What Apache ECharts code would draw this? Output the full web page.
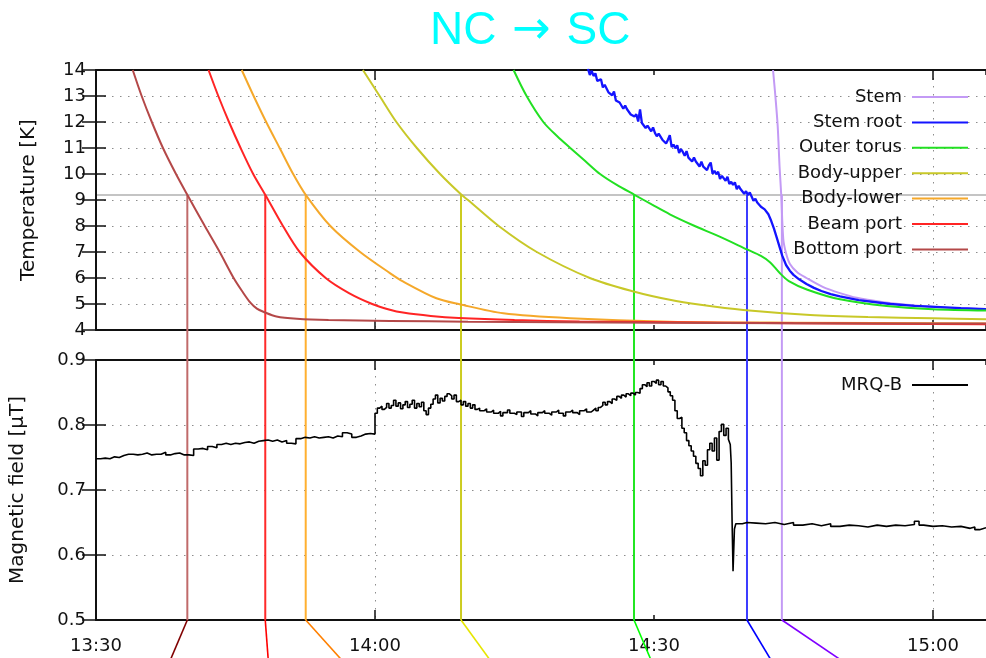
<!DOCTYPE html>
<html>
<head>
<meta charset="utf-8">
<title>NC → SC</title>
<script src="https://cdn.jsdelivr.net/npm/echarts@6/dist/echarts.min.js"></script>
<style>
  html, body { margin: 0; padding: 0; background: #ffffff; }
  #chart { width: 986px; height: 658px; }
</style>
</head>
<body>
<div id="chart"></div>
<script>
// Time axis: minutes after 13:30.
// Cool-down of the cavity parts through the transition (threshold 9.2 K)
// and the field seen by the MRQ-B fluxgate.

const SENSORS = ['Stem', 'Stem root', 'Outer torus', 'Body-upper', 'Body-lower', 'Beam port', 'Bottom port'];

// [minutes, K]
const STEM = [[72.8,14],[73.05,13.0],[73.3,11.85],[73.5,10.3],[73.68,9.2],[73.9,7.5],[74.2,6.95],[74.6,6.55],[75.4,6.22],[76.4,6.0],[78.2,5.65],[80,5.42],[81.8,5.24],[84.5,5.08],[87.2,4.97],[91,4.87],[95.7,4.8]];

const STEM_ROOT = [[52.9,14.05],[53.1,13.81],[53.3,13.97],[53.5,13.77],[53.7,13.87],[53.9,13.58],[54.1,13.58],[54.3,13.64],[54.5,13.33],[54.7,13.43],[54.9,13.39],[55.1,13.14],[55.3,13.18],[55.5,13.03],[55.7,13.17],[55.9,12.83],[56.1,12.90],[56.3,12.75],[56.5,12.81],[56.7,12.51],[56.9,12.63],[57.1,12.49],[57.3,12.56],[57.5,12.29],[57.7,12.35],[57.9,12.21],[58.1,12.30],[58.3,12.02],[58.5,12.48],[58.7,11.96],[58.9,12.03],[59.1,11.77],[59.3,11.86],[59.5,11.87],[59.7,11.64],[59.9,11.79],[60.1,11.58],[60.3,11.45],[60.5,11.55],[60.7,11.57],[60.9,11.32],[61.1,11.36],[61.3,11.17],[61.5,11.32],[61.7,11.49],[61.9,11.04],[62.1,11.13],[62.3,10.99],[62.5,11.10],[62.7,10.81],[62.9,10.96],[63.1,10.85],[63.3,10.70],[63.5,10.88],[63.7,10.63],[63.9,10.67],[64.1,10.48],[64.3,10.63],[64.5,10.48],[64.7,10.51],[64.9,10.29],[65.1,10.47],[65.3,10.28],[65.5,10.30],[65.7,10.15],[65.9,10.33],[66.1,10.44],[66.3,10.01],[66.5,10.12],[66.7,9.99],[66.9,10.09],[67.1,9.81],[67.3,9.93],[67.5,9.94],[67.7,9.74],[67.9,9.89],[68.1,9.62],[68.3,9.70],[68.5,9.58],[68.7,9.68],[68.9,9.42],[69.1,9.55],[69.3,9.42],[69.5,9.49],[69.7,9.24],[69.9,9.34],[70.1,9.19],[70.3,9.29],[70.5,9.35],[70.7,8.97],[70.9,9.05],[71.1,8.90],[71.3,8.96],[71.5,8.74],[71.7,8.80],[71.9,8.64],[72.1,8.66],[72.3,8.45],[72.6,8.2],[72.9,7.9],[73.2,7.55],[73.5,7.2],[73.8,6.85],[74.2,6.5],[74.6,6.28],[75.0,6.12],[75.6,5.95],[76.4,5.77],[77.2,5.62],[78,5.5],[79,5.38],[80,5.29],[82,5.15],[85.4,5.0],[88,4.93],[90.8,4.88],[93,4.84],[95.7,4.8]];

const OUTER_TORUS = [[44.9,14],[46.3,13],[48.1,12],[49.6,11.45],[51.0,11],[52.6,10.5],[54.2,10],[56.0,9.58],[57.9,9.2],[59.8,8.82],[61.7,8.45],[64.2,8.03],[67,7.6],[70,7.1],[71.5,6.85],[72.5,6.6],[73.5,6.2],[74.5,5.88],[76.5,5.55],[80,5.18],[85,4.92],[90,4.8],[95.7,4.75]];

const BODY_UPPER = [[28.7,14],[30.5,13],[32.3,12],[34.5,11],[37.0,10],[39.3,9.2],[40.0,9],[43.3,8],[47.4,7],[53.1,6],[57.8,5.48],[61.7,5.16],[65,4.97],[69.6,4.77],[76.8,4.58],[83,4.5],[90,4.45],[95.7,4.41]];

const BODY_LOWER = [[15.67,14],[16.95,13],[18.3,12],[19.75,11],[21.2,10],[22.55,9.2],[25.2,8],[28.4,7],[31.6,6.19],[33.0,5.87],[36.6,5.22],[39.1,4.99],[43.8,4.64],[51,4.45],[61.7,4.32],[75,4.28],[95.7,4.25]];

const BEAM_PORT = [[12.1,14],[13.15,13],[14.3,12],[15.55,11],[16.9,10],[18.2,9.2],[20.1,8],[21.9,7],[24.7,6],[27.2,5.42],[29.7,5],[31.6,4.78],[33,4.67],[36,4.54],[39,4.46],[45,4.38],[52,4.33],[61.7,4.3],[75,4.26],[95.7,4.22]];

const BOTTOM_PORT = [[3.95,14],[4.91,13],[6.0,12],[7.2,11],[8.6,10],[9.82,9.2],[11.7,8],[13.3,7],[14.8,6],[15.7,5.5],[16.6,5.05],[17.3,4.82],[18.0,4.7],[19.4,4.52],[21.6,4.43],[25,4.38],[31.6,4.35],[40,4.32],[50,4.3],[60,4.28],[75,4.26],[95.7,4.25]];

const TEMPERATURES = [STEM, STEM_ROOT, OUTER_TORUS, BODY_UPPER, BODY_LOWER, BEAM_PORT, BOTTOM_PORT];

// transition temperature and the moment each part passes it [minutes]
const THRESHOLD = 9.2;
const CROSS_TIMES = [73.75, 70.0, 57.85, 39.25, 22.55, 18.2, 9.82];

// MRQ-B field [minutes, µT]
const MRQ_B = [[0,0.748],[0.5,0.749],[1.0,0.748],[1.5,0.751],[2.0,0.750],[2.5,0.753],[3.0,0.755],[3.5,0.755],[4.0,0.754],[4.5,0.755],[5.0,0.757],[5.5,0.754],[6.0,0.755],[6.5,0.755],[7.0,0.758],[7.5,0.754],[8.0,0.756],[8.5,0.757],[9.0,0.754],[9.5,0.754],[10.0,0.753],[10.5,0.763],[11.0,0.764],[11.5,0.762],[12.0,0.767],[12.5,0.765],[13.0,0.770],[13.5,0.772],[14.0,0.770],[14.5,0.772],[15.0,0.771],[15.5,0.773],[16.0,0.774],[16.5,0.772],[17.0,0.775],[17.5,0.776],[18.0,0.777],[18.5,0.775],[19.0,0.777],[19.5,0.774],[20.0,0.776],[20.5,0.772],[21.0,0.771],[21.5,0.779],[22.0,0.781],[22.5,0.780],[23.0,0.782],[23.5,0.780],[24.0,0.781],[24.5,0.782],[25.0,0.780],[25.5,0.783],[26.0,0.782],[26.5,0.788],[27.0,0.786],[27.5,0.781],[28.0,0.783],[28.5,0.786],[29.0,0.787],[29.5,0.786],
  [30.0,0.818],[30.25,0.826],[30.5,0.829],[30.75,0.824],[31.0,0.827],[31.25,0.833],[31.5,0.826],[31.75,0.830],[32.0,0.838],[32.25,0.829],[32.5,0.834],[32.75,0.825],[33.0,0.831],[33.25,0.836],[33.5,0.827],[33.75,0.832],[34.0,0.838],[34.25,0.826],[34.5,0.833],[34.75,0.828],[35.0,0.835],[35.25,0.822],[35.5,0.816],[35.75,0.826],[36.0,0.832],[36.25,0.840],[36.5,0.846],[36.75,0.834],[37.0,0.841],[37.25,0.837],[37.5,0.844],[37.75,0.848],[38.0,0.845],[38.25,0.840],[38.5,0.846],[38.75,0.836],[39.0,0.838],[39.25,0.831],[39.5,0.836],[39.75,0.829],[40.0,0.833],[40.25,0.826],[40.5,0.831],[40.75,0.824],
  [41.0,0.826],[41.25,0.822],[41.5,0.822],[41.75,0.825],[42.0,0.820],[42.25,0.820],[42.5,0.823],[42.75,0.818],[43.0,0.818],[43.25,0.821],[43.5,0.814],[43.75,0.819],[44.0,0.819],[44.25,0.823],[44.5,0.818],[44.75,0.818],[45.0,0.816],[45.25,0.820],[45.5,0.820],[45.75,0.813],[46.0,0.819],[46.25,0.819],[46.5,0.822],[46.75,0.817],[47.0,0.817],[47.25,0.814],[47.5,0.819],[47.75,0.819],[48.0,0.822],[48.25,0.818],[48.5,0.818],[48.75,0.815],[49.0,0.820],[49.25,0.820],[49.5,0.823],[49.75,0.818],[50.0,0.818],[50.25,0.814],[50.5,0.820],[50.75,0.820],[51.0,0.823],[51.25,0.819],[51.5,0.819],[51.75,0.816],[52.0,0.822],[52.25,0.822],[52.5,0.825],[52.75,0.820],[53.0,0.820],[53.25,0.823],[53.5,0.826],[53.75,0.822],
  [54.0,0.827],[54.25,0.830],[54.5,0.835],[54.75,0.831],[55.0,0.836],[55.25,0.833],[55.5,0.840],[55.75,0.838],[56.0,0.844],[56.25,0.841],[56.5,0.846],[56.75,0.843],[57.0,0.848],[57.25,0.845],[57.5,0.849],[57.75,0.846],[58.0,0.850],[58.25,0.849],[58.5,0.856],[58.75,0.862],[59.0,0.859],[59.25,0.865],[59.5,0.860],[59.75,0.867],[60.0,0.864],[60.25,0.869],[60.5,0.862],[60.75,0.867],[61.0,0.860],[61.25,0.857],[61.5,0.851],[61.75,0.845],[62.0,0.838],
  [62.25,0.822],[62.5,0.810],[62.75,0.812],[63.0,0.795],[63.25,0.788],[63.5,0.776],[63.75,0.768],[64.0,0.760],[64.25,0.752],[64.5,0.741],[64.75,0.733],[65.0,0.722],[65.25,0.745],[65.5,0.738],[65.75,0.762],[66.0,0.772],[66.25,0.760],[66.5,0.780],[66.75,0.746],[67.0,0.790],[67.25,0.801],[67.5,0.784],[67.75,0.795],[68.0,0.778],[68.2,0.770],[68.3,0.742],[68.4,0.650],[68.5,0.575],[68.65,0.640],[68.8,0.648],
  [69.5,0.650],[70,0.649],[71,0.648],[72,0.650],[73,0.647],[74,0.650],[75,0.646],[76,0.648],[77,0.645],[78,0.648],[79,0.644],[80,0.646],[81,0.645],[82,0.643],[83,0.646],[84,0.644],[85,0.646],[86,0.645],[87,0.647],[88,0.652],[88.5,0.646],[89,0.644],[90,0.645],[91,0.643],[92,0.644],[93,0.641],[94,0.643],[94.5,0.639],[95,0.642],[95.7,0.641]];

// axis ranges and ticks
const T_MIN = 4, T_MAX = 14, T_STEP = 1;
const B_MIN = 0.5, B_MAX = 0.9, B_STEP = 0.1;
const X_MIN = 0, X_MAX = 95.7, X_STEP = 30;
const HOUR_MARKS = [30, 90];          // 14:00 and 15:00
const START_MINUTES = 13 * 60 + 30;   // 13:30

// ---------- styling ----------
const FONT = 'DejaVu Sans';
const INK = '#111111';
const SENSOR_COLORS = ['#c39af5', '#1414ff', '#22e022', '#c8c828', '#f5a82a', '#ff2424', '#b44848'];
const CROSS_COLORS  = ['#c39af5', '#3c3cff', '#22e622', '#cccc20', '#ffb030', '#ff2a2a', '#c06a6a'];
const LEAD_COLORS   = ['#8000ff', '#0000ff', '#00ff00', '#e6e600', '#ff8000', '#ff0000', '#800000'];
const LEAD_DX = [59, 24, 17, 29, 36, 3, -17];
const LEAD_DY = 40;

const TOP_GRID = { left: 96, right: 0, top: 70, height: 260 };
const BOTTOM_GRID = { left: 96, right: 0, top: 360, height: 260 };
const PANEL_GAP = BOTTOM_GRID.top - (TOP_GRID.top + TOP_GRID.height);

const DOTTED = { color: '#8c8c8c', width: 1, type: [1.5, 6.5] };

function clock(m) {
  const total = START_MINUTES + Math.round(m);
  return Math.floor(total / 60) + ':' + String(total % 60).padStart(2, '0');
}

function timeAxes(gridIndex, withLabels) {
  const base = { gridIndex, type: 'value', min: X_MIN, max: X_MAX, interval: X_STEP, silent: true };
  const line = { show: true, onZero: false, lineStyle: { color: INK, width: 2 } };
  return [
    Object.assign({}, base, {
      position: 'bottom',
      axisLine: line,
      axisTick: { show: true, inside: true, length: 5, lineStyle: { color: INK, width: 1.5 } },
      axisLabel: { show: withLabels, formatter: clock, showMaxLabel: false, showMinLabel: true,
                   fontSize: 18, fontFamily: FONT, color: INK, margin: 17 },
      splitLine: { show: true, lineStyle: Object.assign({}, DOTTED, { color: ['rgba(0,0,0,0)', DOTTED.color] }) }
    }),
    Object.assign({}, base, {
      position: 'bottom',
      axisLine: { show: false },
      axisTick: { show: true, inside: true, length: 10, customValues: HOUR_MARKS, lineStyle: { color: INK, width: 1.5 } },
      axisLabel: { show: false },
      splitLine: { show: false }
    }),
    Object.assign({}, base, {
      position: 'top',
      axisLine: line,
      axisTick: { show: true, inside: true, length: 5, lineStyle: { color: INK, width: 1.5 } },
      axisLabel: { show: false },
      splitLine: { show: false }
    }),
    Object.assign({}, base, {
      position: 'top',
      axisLine: { show: false },
      axisTick: { show: true, inside: true, length: 10, customValues: HOUR_MARKS, lineStyle: { color: INK, width: 1.5 } },
      axisLabel: { show: false },
      splitLine: { show: false }
    })
  ];
}

function valueAxes(gridIndex, min, max, step, name, nameGap) {
  return [
    {
      gridIndex, type: 'value', position: 'left', min, max, interval: step, silent: true,
      name, nameLocation: 'middle', nameGap,
      nameTextStyle: { fontSize: 20, fontFamily: FONT, color: INK },
      axisLine: { show: true, onZero: false, lineStyle: { color: INK, width: 2 } },
      axisTick: { show: true, inside: true, length: 10, lineStyle: { color: INK, width: 1.5 } },
      axisLabel: { fontSize: 18, fontFamily: FONT, color: INK, margin: 10 },
      splitLine: { show: true, lineStyle: DOTTED }
    },
    {
      gridIndex, type: 'value', position: 'right', min, max, interval: step, silent: true,
      axisLine: { show: false },
      axisTick: { show: true, inside: true, length: 14, lineStyle: { color: INK, width: 1.5 } },
      axisLabel: { show: false },
      splitLine: { show: false }
    }
  ];
}

const series = [];

// vertical markers in the temperature panel: from the threshold crossing down through the gap
series.push({
  type: 'custom', name: 'crossing-top', xAxisIndex: 0, yAxisIndex: 0, clip: false, silent: true, z: 1,
  data: CROSS_TIMES.map((t, i) => [t, THRESHOLD, i]),
  renderItem(params, api) {
    const i = api.value(2);
    const p = api.coord([api.value(0), api.value(1)]);
    const b = api.coord([api.value(0), T_MIN]);
    return { type: 'line', shape: { x1: p[0], y1: p[1], x2: p[0], y2: b[1] + PANEL_GAP },
             style: { stroke: CROSS_COLORS[i], lineWidth: 2 } };
  }
});

// the same markers through the field panel, with their leader lines below the time axis
series.push({
  type: 'custom', name: 'crossing-bottom', xAxisIndex: 4, yAxisIndex: 2, clip: false, silent: true, z: 1,
  data: CROSS_TIMES.map((t, i) => [t, i]),
  renderItem(params, api) {
    const t = api.value(0), i = api.value(1);
    const top = api.coord([t, B_MAX]);
    const bot = api.coord([t, B_MIN]);
    return {
      type: 'group',
      children: [
        { type: 'line', shape: { x1: top[0], y1: top[1], x2: bot[0], y2: bot[1] },
          style: { stroke: CROSS_COLORS[i], lineWidth: 2 } },
        { type: 'line', shape: { x1: bot[0], y1: bot[1], x2: bot[0] + LEAD_DX[i], y2: bot[1] + LEAD_DY },
          style: { stroke: LEAD_COLORS[i], lineWidth: 1.6 } }
      ]
    };
  }
});

SENSORS.forEach((name, i) => {
  const noisy = name === 'Stem root';
  const s = {
    type: 'line', name, xAxisIndex: 0, yAxisIndex: 0, data: TEMPERATURES[i],
    showSymbol: false, symbol: 'none', silent: true, z: 3,
    smooth: noisy ? false : 0.3,
    color: SENSOR_COLORS[i],
    lineStyle: { color: SENSOR_COLORS[i], width: noisy ? 2.3 : 2 },
    itemStyle: { color: SENSOR_COLORS[i] },
    emphasis: { disabled: true }
  };
  if (i === 0) {
    s.markLine = {
      silent: true, symbol: 'none', label: { show: false }, z: 0,
      lineStyle: { color: '#c4c4c4', width: 2, type: 'solid' },
      data: [{ yAxis: THRESHOLD }]
    };
  }
  series.push(s);
});

series.push({
  type: 'line', name: 'MRQ-B', xAxisIndex: 4, yAxisIndex: 2, data: MRQ_B,
  step: 'end', showSymbol: false, symbol: 'none', silent: true, z: 3,
  color: '#000000',
  lineStyle: { color: '#000000', width: 1.6 },
  itemStyle: { color: '#000000' },
  emphasis: { disabled: true }
});

const legendCommon = {
  orient: 'vertical', right: 18, align: 'right', icon: 'rect', padding: 0,
  itemWidth: 56, itemHeight: 2, itemGap: 5.4, selectedMode: false,
  textStyle: { fontSize: 18, lineHeight: 20, fontFamily: FONT, color: INK, padding: [0, 5, 0, 0] }
};

const TITLE_COLOR = '#00ffff';

const option = {
  animation: false,
  backgroundColor: '#ffffff',
  title: {
    text: '{t|NC} {a|→} {t|SC}', left: 430, top: 8, padding: 0,
    textStyle: {
      color: TITLE_COLOR, fontSize: 46, fontWeight: 'normal', fontFamily: 'Liberation Sans',
      rich: {
        t: { color: TITLE_COLOR, fontSize: 46, fontFamily: 'Liberation Sans' },
        a: { color: TITLE_COLOR, fontSize: 46, fontFamily: 'DejaVu Sans', padding: [0, 3, 0, 3] }
      }
    }
  },
  legend: [
    Object.assign({}, legendCommon, { top: 87, data: SENSORS }),
    Object.assign({}, legendCommon, { top: 375, data: ['MRQ-B'] })
  ],
  grid: [TOP_GRID, BOTTOM_GRID],
  xAxis: timeAxes(0, false).concat(timeAxes(1, true)),
  yAxis: valueAxes(0, T_MIN, T_MAX, T_STEP, 'Temperature [K]', 57)
           .concat(valueAxes(1, B_MIN, B_MAX, B_STEP, 'Magnetic field [µT]', 68)),
  series
};

const chart = echarts.init(document.getElementById('chart'), null, { renderer: 'canvas' });
chart.setOption(option);
</script>
</body>
</html>
